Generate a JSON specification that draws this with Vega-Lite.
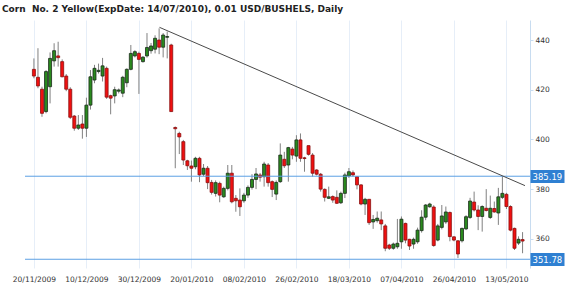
{
  "$schema": "https://vega.github.io/schema/vega-lite/v6.json",
  "width": 505,
  "height": 248,
  "autosize": "none",
  "padding": {"left": 25, "top": 20, "right": 40, "bottom": 20},
  "background": "white",
  "title": {"text": "Corn \u00a0No. 2 Yellow(ExpDate: 14/07/2010), 0.01 USD/BUSHELS, Daily", "anchor": "start", "frame": "group", "dx": -23, "offset": 6, "font": "DejaVu Sans", "fontSize": 9, "fontWeight": "bold", "color": "#222"},
  "config": {"view": {"stroke": null}, "font": "DejaVu Sans"},
  "datasets": {
    "candles": [
      {"i":0,"o":428.2,"h":432.6,"l":424.6,"c":425.5},
      {"i":1,"o":425.0,"h":436.7,"l":420.6,"c":421.5},
      {"i":2,"o":420.2,"h":421.2,"l":409.1,"c":410.5},
      {"i":3,"o":411.2,"h":427.9,"l":410.5,"c":427.3},
      {"i":4,"o":421.2,"h":435.0,"l":414.5,"c":432.6},
      {"i":5,"o":431.6,"h":438.7,"l":429.3,"c":435.7},
      {"i":6,"o":433.6,"h":439.3,"l":429.3,"c":432.9},
      {"i":7,"o":431.3,"h":432.2,"l":425.0,"c":425.2},
      {"i":8,"o":425.5,"h":426.3,"l":419.4,"c":420.2},
      {"i":9,"o":420.2,"h":421.0,"l":408.2,"c":408.9},
      {"i":10,"o":409.4,"h":409.8,"l":403.5,"c":404.5},
      {"i":11,"o":404.5,"h":409.8,"l":403.8,"c":405.8},
      {"i":12,"o":406.2,"h":409.8,"l":400.3,"c":404.5},
      {"i":13,"o":404.5,"h":416.8,"l":401.0,"c":413.8},
      {"i":14,"o":413.8,"h":427.9,"l":412.0,"c":425.2},
      {"i":15,"o":423.9,"h":430.0,"l":422.6,"c":428.6},
      {"i":16,"o":427.3,"h":430.5,"l":426.5,"c":427.8},
      {"i":17,"o":425.5,"h":432.8,"l":423.3,"c":429.6},
      {"i":18,"o":428.6,"h":429.3,"l":416.3,"c":417.0},
      {"i":19,"o":417.6,"h":418.0,"l":410.1,"c":416.6},
      {"i":20,"o":417.5,"h":421.2,"l":414.5,"c":420.0},
      {"i":21,"o":419.4,"h":420.5,"l":418.5,"c":419.9},
      {"i":22,"o":418.6,"h":425.6,"l":417.0,"c":425.0},
      {"i":23,"o":422.8,"h":428.6,"l":421.0,"c":428.2},
      {"i":24,"o":428.2,"h":438.0,"l":427.8,"c":434.6},
      {"i":25,"o":433.6,"h":435.9,"l":433.0,"c":435.3},
      {"i":26,"o":434.6,"h":435.3,"l":418.3,"c":432.2},
      {"i":27,"o":431.3,"h":433.5,"l":430.9,"c":433.1},
      {"i":28,"o":433.6,"h":442.8,"l":432.9,"c":437.0},
      {"i":29,"o":435.7,"h":438.8,"l":434.5,"c":437.6},
      {"i":30,"o":436.3,"h":441.9,"l":434.6,"c":440.7},
      {"i":31,"o":440.0,"h":444.7,"l":434.3,"c":437.1},
      {"i":32,"o":437.1,"h":442.8,"l":433.0,"c":442.0},
      {"i":33,"o":441.1,"h":443.4,"l":432.6,"c":441.4},
      {"i":34,"o":438.0,"h":438.5,"l":411.2,"c":411.2},
      {"i":35,"o":404.8,"h":405.2,"l":388.4,"c":404.3},
      {"i":36,"o":402.4,"h":403.1,"l":394.1,"c":401.0},
      {"i":37,"o":399.1,"h":399.8,"l":389.7,"c":391.7},
      {"i":38,"o":391.4,"h":391.8,"l":387.7,"c":389.4},
      {"i":39,"o":389.3,"h":391.5,"l":383.0,"c":388.4},
      {"i":40,"o":389.0,"h":393.0,"l":388.0,"c":392.4},
      {"i":41,"o":392.4,"h":393.0,"l":382.8,"c":385.7},
      {"i":42,"o":386.0,"h":390.1,"l":385.2,"c":388.4},
      {"i":43,"o":388.4,"h":389.3,"l":380.0,"c":382.6},
      {"i":44,"o":382.7,"h":383.7,"l":377.8,"c":378.7},
      {"i":45,"o":378.3,"h":383.5,"l":377.0,"c":382.6},
      {"i":46,"o":382.3,"h":383.0,"l":374.7,"c":377.6},
      {"i":47,"o":376.9,"h":381.0,"l":376.5,"c":380.3},
      {"i":48,"o":380.3,"h":389.7,"l":379.5,"c":386.4},
      {"i":49,"o":386.4,"h":389.7,"l":374.3,"c":374.9},
      {"i":50,"o":376.3,"h":377.6,"l":370.9,"c":375.3},
      {"i":51,"o":375.6,"h":380.3,"l":369.2,"c":372.9},
      {"i":52,"o":375.3,"h":378.5,"l":374.5,"c":377.6},
      {"i":53,"o":377.6,"h":381.5,"l":376.5,"c":380.7},
      {"i":54,"o":380.7,"h":386.0,"l":379.8,"c":383.9},
      {"i":55,"o":383.9,"h":388.5,"l":380.0,"c":386.1},
      {"i":56,"o":385.7,"h":386.5,"l":383.0,"c":384.8},
      {"i":57,"o":385.0,"h":391.0,"l":381.0,"c":390.1},
      {"i":58,"o":389.7,"h":390.5,"l":381.0,"c":382.6},
      {"i":59,"o":383.0,"h":383.5,"l":376.8,"c":379.9},
      {"i":60,"o":378.0,"h":383.5,"l":375.6,"c":382.7},
      {"i":61,"o":383.0,"h":398.4,"l":382.5,"c":393.7},
      {"i":62,"o":392.0,"h":395.0,"l":388.5,"c":389.4},
      {"i":63,"o":389.7,"h":397.0,"l":383.0,"c":396.7},
      {"i":64,"o":396.1,"h":397.0,"l":392.0,"c":393.7},
      {"i":65,"o":393.3,"h":401.7,"l":391.0,"c":399.8},
      {"i":66,"o":399.8,"h":402.4,"l":391.0,"c":392.4},
      {"i":67,"o":392.6,"h":393.0,"l":387.0,"c":392.3},
      {"i":68,"o":397.5,"h":397.5,"l":393.5,"c":394.0},
      {"i":69,"o":393.7,"h":394.5,"l":385.0,"c":386.4},
      {"i":70,"o":387.7,"h":388.0,"l":385.5,"c":386.0},
      {"i":71,"o":386.0,"h":386.5,"l":379.0,"c":380.0},
      {"i":72,"o":379.9,"h":380.3,"l":375.0,"c":376.7},
      {"i":73,"o":376.3,"h":381.0,"l":376.0,"c":376.9},
      {"i":74,"o":377.0,"h":377.5,"l":374.5,"c":375.6},
      {"i":75,"o":376.7,"h":379.5,"l":374.0,"c":374.3},
      {"i":76,"o":374.5,"h":379.0,"l":374.0,"c":378.3},
      {"i":77,"o":378.3,"h":386.6,"l":376.4,"c":385.7},
      {"i":78,"o":385.3,"h":388.5,"l":384.5,"c":387.0},
      {"i":79,"o":386.6,"h":387.5,"l":385.0,"c":385.7},
      {"i":80,"o":385.0,"h":385.0,"l":379.9,"c":381.7},
      {"i":81,"o":381.7,"h":382.0,"l":373.5,"c":374.0},
      {"i":82,"o":374.0,"h":376.5,"l":369.6,"c":375.9},
      {"i":83,"o":375.9,"h":376.0,"l":365.6,"c":366.5},
      {"i":84,"o":366.8,"h":369.6,"l":364.0,"c":367.8},
      {"i":85,"o":367.3,"h":371.0,"l":366.5,"c":368.3},
      {"i":86,"o":367.6,"h":371.0,"l":363.5,"c":366.0},
      {"i":87,"o":365.2,"h":366.0,"l":355.0,"c":356.2},
      {"i":88,"o":357.5,"h":358.0,"l":355.5,"c":356.2},
      {"i":89,"o":356.2,"h":358.5,"l":355.6,"c":357.9},
      {"i":90,"o":356.8,"h":368.0,"l":356.0,"c":358.2},
      {"i":91,"o":358.8,"h":369.0,"l":356.0,"c":367.9},
      {"i":92,"o":366.2,"h":366.5,"l":358.2,"c":359.5},
      {"i":93,"o":359.8,"h":360.0,"l":355.5,"c":357.1},
      {"i":94,"o":357.9,"h":360.5,"l":356.0,"c":359.8},
      {"i":95,"o":358.8,"h":364.5,"l":358.0,"c":363.5},
      {"i":96,"o":363.3,"h":371.5,"l":362.5,"c":368.7},
      {"i":97,"o":368.7,"h":374.0,"l":367.5,"c":373.6},
      {"i":98,"o":372.9,"h":374.5,"l":372.5,"c":374.0},
      {"i":99,"o":372.8,"h":373.5,"l":356.8,"c":357.3},
      {"i":100,"o":359.5,"h":366.0,"l":359.0,"c":365.2},
      {"i":101,"o":364.6,"h":373.6,"l":363.8,"c":369.2},
      {"i":102,"o":366.8,"h":373.0,"l":366.0,"c":370.8},
      {"i":103,"o":370.6,"h":371.0,"l":359.0,"c":360.9},
      {"i":104,"o":360.8,"h":361.0,"l":359.0,"c":359.5},
      {"i":105,"o":359.2,"h":359.5,"l":352.3,"c":353.9},
      {"i":106,"o":359.2,"h":364.5,"l":358.5,"c":364.2},
      {"i":107,"o":364.0,"h":369.5,"l":363.5,"c":368.9},
      {"i":108,"o":368.6,"h":376.5,"l":368.0,"c":375.2},
      {"i":109,"o":374.8,"h":379.0,"l":371.0,"c":371.6},
      {"i":110,"o":371.6,"h":373.5,"l":363.5,"c":369.0},
      {"i":111,"o":369.0,"h":373.5,"l":362.9,"c":373.0},
      {"i":112,"o":372.3,"h":380.0,"l":371.0,"c":371.4},
      {"i":113,"o":368.6,"h":377.4,"l":368.0,"c":372.3},
      {"i":114,"o":372.2,"h":375.0,"l":370.5,"c":370.8},
      {"i":115,"o":370.4,"h":380.5,"l":365.6,"c":376.9},
      {"i":116,"o":376.7,"h":385.2,"l":376.0,"c":378.3},
      {"i":117,"o":377.9,"h":378.5,"l":372.0,"c":373.0},
      {"i":118,"o":373.0,"h":373.5,"l":363.0,"c":363.5},
      {"i":119,"o":364.2,"h":364.5,"l":355.5,"c":356.2},
      {"i":120,"o":358.3,"h":361.0,"l":357.5,"c":359.8},
      {"i":121,"o":359.7,"h":362.7,"l":354.2,"c":359.1}
    ],
    "levels": [{"level": 385.19}, {"level": 351.78}],
    "trend": [{"i0": 31.1, "p0": 445.1, "i1": 121.6, "p1": 381.4}]
  },
  "resolve": {"axis": {"y": "independent", "x": "independent"}},
  "layer": [
    {
      "data": {"name": "candles"},
      "mark": {"type": "rule", "color": "#808080", "strokeWidth": 1},
      "encoding": {
        "x": {"field": "i", "type": "quantitative",
              "scale": {"domain": [-0.97, 121.6], "nice": false, "zero": false},
              "axis": {"orient": "bottom", "values": [0,13,26,39,52,65,78,91,104,117],
                       "labelExpr": "['20/11/2009','10/12/2009','30/12/2009','20/01/2010','08/02/2010','26/02/2010','18/03/2010','07/04/2010','26/04/2010','13/05/2010'][round(datum.value/13)]",
                       "grid": true, "gridColor": "#e6eef8", "gridWidth": 1, "ticks": false, "domain": false,
                       "labelFontSize": 7.5, "labelColor": "#333", "labelPadding": 7, "title": null, "labelFlush": false, "labelOverlap": false}},
        "y": {"field": "l", "type": "quantitative",
              "scale": {"domain": [348.26, 448.05], "nice": false, "zero": false},
              "axis": {"orient": "right", "values": [360,380,400,420,440], "grid": false,
                       "tickSize": 3, "tickColor": "#c8dcf0", "domainColor": "#c8dcf0",
                       "labelFontSize": 7.5, "labelColor": "#333", "labelPadding": 2, "title": null}},
        "y2": {"field": "h"}
      }
    },
    {
      "data": {"name": "candles"},
      "mark": {"type": "bar", "size": 3, "strokeWidth": 0.8},
      "encoding": {
        "x": {"field": "i", "type": "quantitative", "scale": {"domain": [-0.97, 121.6], "nice": false, "zero": false}, "axis": null},
        "y": {"field": "o", "type": "quantitative", "scale": {"domain": [348.26, 448.05], "nice": false, "zero": false}, "axis": null},
        "y2": {"field": "c"},
        "fill": {"condition": {"test": "datum.c >= datum.o", "value": "#2a8a1e"}, "value": "#f01010"},
        "stroke": {"condition": {"test": "datum.c >= datum.o", "value": "#1a2a1a"}, "value": "#8a1010"}
      }
    },
    {
      "data": {"name": "levels"},
      "mark": {"type": "rule", "color": "#5ca0e4", "strokeWidth": 1},
      "encoding": {
        "y": {"field": "level", "type": "quantitative", "scale": {"domain": [348.26, 448.05], "nice": false, "zero": false},
              "axis": {"orient": "right", "values": [385.19, 351.78], "format": ".2f", "grid": false, "domain": false,
                       "tickSize": 34, "tickWidth": 13, "tickColor": "#2f80d2", "labelColor": "#ffffff",
                       "labelFontSize": 8.5, "labelPadding": -32, "labelOverlap": false, "labelFlush": false, "title": null, "zindex": 2}}
      }
    },
    {
      "data": {"name": "trend"},
      "mark": {"type": "rule", "color": "#4a4a4a", "strokeWidth": 1},
      "encoding": {
        "x": {"field": "i0", "type": "quantitative", "scale": {"domain": [-0.97, 121.6], "nice": false, "zero": false}, "axis": null},
        "x2": {"field": "i1"},
        "y": {"field": "p0", "type": "quantitative", "scale": {"domain": [348.26, 448.05], "nice": false, "zero": false}, "axis": null},
        "y2": {"field": "p1"}
      }
    }
  ]
}
